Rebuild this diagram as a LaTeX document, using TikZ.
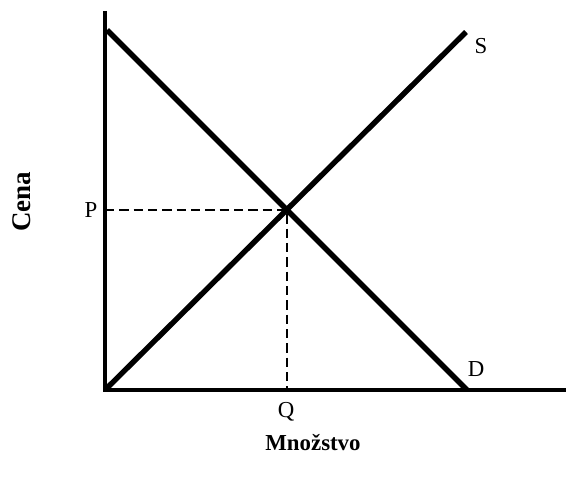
\documentclass[tikz,border=0pt]{standalone}
\usepackage{fontspec}
\setmainfont{Liberation Serif}
\usetikzlibrary{positioning}

\begin{document}
\begin{tikzpicture}[
  x=0.03cm, y=-0.03cm,
  axis/.style={line width=2.8pt},
  curve/.style={line width=4.6pt},
  guide/.style={line width=1.8pt, dash pattern=on 0.28cm off 0.15cm},
  lbl/.style={inner sep=0pt, font=\fontsize{19.5}{21}\selectfont},
  title/.style={inner sep=0pt, font=\bfseries\fontsize{19.5}{22}\selectfont},
]
\useasboundingbox (0,0) rectangle (566,482);

% === Axes ===
\coordinate (O) at (105,390);
\coordinate (ytop) at (105,11);
\coordinate (xend) at (566,390);
\draw[axis] (ytop) -- (O) -- (xend);

% === Demand and supply ===
\coordinate (dtop) at (107,30);
\coordinate (dbot) at (467,390);
\coordinate (stop) at (466,32);
\draw[curve] (dtop) -- (dbot);
\draw[curve] (O) -- (stop);

% === Equilibrium ===
\coordinate (E) at (intersection of dtop--dbot and O--stop);
\coordinate (pP) at (E -| O);
\coordinate (qQ) at (E |- O);
\draw[guide] (pP) -- (E) -- (qQ);

% === Labels ===
\node[lbl] (p) at (91,210) {P};
\node[lbl] (q) at (286,412) {Q};
\node[lbl] (s) at (481,46) {S};
\node[lbl] (d) at (476,369) {D};
\node[title, rotate=90] (cena) at (22,202) {\fontsize{23}{26}\selectfont Cena};
\node[title] (mn) at (313,443) {Množstvo};
\end{tikzpicture}
\end{document}
